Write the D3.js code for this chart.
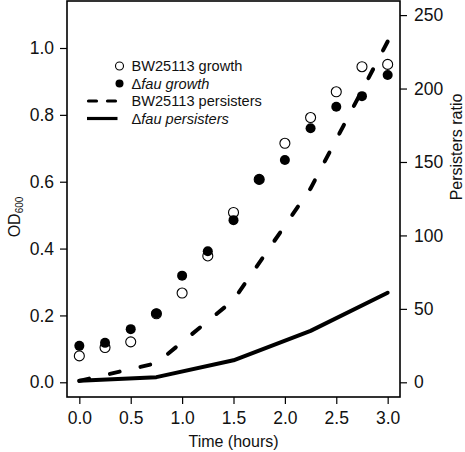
<!DOCTYPE html>
<html>
<head>
<meta charset="utf-8">
<script src="https://cdn.jsdelivr.net/npm/d3@7"></script>
<style>
  html, body { margin: 0; padding: 0; background: #fff; }
  svg { display: block; font-family: "Liberation Sans", Arial, Helvetica, sans-serif; }
</style>
</head>
<body>
<div id="chart"></div>
<script>
// Data
const timeHours = [0, 0.25, 0.5, 0.75, 1.0, 1.25, 1.5, 1.75, 2.0, 2.25, 2.5, 2.75, 3.0];
const bwGrowth = [0.079, 0.104, 0.121, 0.205, 0.267, 0.378, 0.508, 0.607, 0.715, 0.792, 0.869, 0.944, 0.951];
const fauGrowth = [0.109, 0.118, 0.159, 0.206, 0.319, 0.392, 0.485, 0.607, 0.665, 0.760, 0.824, 0.856, 0.919];

const persTime = [0, 0.75, 1.5, 2.25, 3.0];
const bwPersisters = [1, 13, 56, 132, 232];
const fauPersisters = [1, 3.5, 15, 35, 61];

const xTicks = [0, 0.5, 1.0, 1.5, 2.0, 2.5, 3.0];
const leftTicks = [0, 0.2, 0.4, 0.6, 0.8, 1.0];
const rightTicks = [0, 50, 100, 150, 200, 250];

const legendItems = [
    { label: 'BW25113 growth', delta: false, kind: 'open' },
    { label: 'fau growth', delta: true, kind: 'filled' },
    { label: 'BW25113 persisters', delta: false, kind: 'dashed' },
    { label: 'fau persisters', delta: true, kind: 'solid' }
];

const width = 465, height = 452;
const plot = { left: 67, right: 400, top: 1, bottom: 397 };

const svg = d3.select('#chart')
    .append('svg')
    .attr('width', width)
    .attr('height', height);

// Scales
const x = d3.scaleLinear().domain([-0.12, 3.12]).range([plot.left, plot.right]);
const yLeft = d3.scaleLinear().domain([-0.044, 1.1406]).range([plot.bottom, plot.top]);
const yRight = d3.scaleLinear().domain([-10, 259.6]).range([plot.bottom, plot.top]);

const tickFont = 17.5;

// Axes
const xAxis = svg.append('g')
    .attr('transform', `translate(0,${plot.bottom})`)
    .call(d3.axisBottom(x).tickValues(xTicks).tickFormat(d3.format('.1f')).tickSize(7).tickPadding(8).tickSizeOuter(0));

const lAxis = svg.append('g')
    .attr('transform', `translate(${plot.left},0)`)
    .call(d3.axisLeft(yLeft).tickValues(leftTicks).tickFormat(d3.format('.1f')).tickSize(7).tickPadding(6).tickSizeOuter(0));

const rAxis = svg.append('g')
    .attr('transform', `translate(${plot.right},0)`)
    .call(d3.axisRight(yRight).tickValues(rightTicks).tickFormat(d3.format('d')).tickSize(7).tickPadding(7).tickSizeOuter(0));

[xAxis, lAxis, rAxis].forEach(g => {
    g.select('.domain').remove();
    g.selectAll('line').attr('stroke', '#000').attr('stroke-width', 1.2);
    g.selectAll('text')
        .attr('fill', '#111')
        .style('font-size', tickFont + 'px')
        .style('font-family', '"Liberation Sans", Arial, sans-serif');
});

// Box
svg.append('rect')
    .attr('x', plot.left)
    .attr('y', plot.top)
    .attr('width', plot.right - plot.left)
    .attr('height', plot.bottom - plot.top)
    .attr('fill', 'none')
    .attr('stroke', '#000')
    .attr('stroke-width', 1.6);

// Persister lines (right axis)
const persLine = d3.line()
    .x(d => x(d[0]))
    .y(d => yRight(d[1]));

const dashed = svg.append('path')
    .datum(d3.zip(persTime, bwPersisters))
    .attr('d', persLine)
    .attr('fill', 'none')
    .attr('stroke', '#000')
    .attr('stroke-width', 4)
    .attr('stroke-linecap', 'round');

// fit the dash pattern so that the line starts and ends with a dash
const dashLen = 10;
const total = dashed.node().getTotalLength();
const nPeriods = Math.round((total - dashLen) / 32);
const period = (total - dashLen) / nPeriods;
dashed.attr('stroke-dasharray', `${dashLen},${period - dashLen}`);

svg.append('path')
    .datum(d3.zip(persTime, fauPersisters))
    .attr('d', persLine)
    .attr('fill', 'none')
    .attr('stroke', '#000')
    .attr('stroke-width', 4)
    .attr('stroke-linecap', 'round')
    .attr('stroke-linejoin', 'round');

// Growth points (left axis)
svg.selectAll('.bw')
    .data(d3.zip(timeHours, bwGrowth))
    .enter()
    .append('circle')
    .attr('class', 'bw')
    .attr('cx', d => x(d[0]))
    .attr('cy', d => yLeft(d[1]))
    .attr('r', 5)
    .attr('fill', '#fff')
    .attr('stroke', '#000')
    .attr('stroke-width', 1.1);

svg.selectAll('.fau')
    .data(d3.zip(timeHours, fauGrowth))
    .enter()
    .append('circle')
    .attr('class', 'fau')
    .attr('cx', d => x(d[0]))
    .attr('cy', d => yLeft(d[1]))
    .attr('r', 5)
    .attr('fill', '#000');

// Legend
const legend = svg.append('g');
const rowY = i => 66 + i * 17.5;

legendItems.forEach((item, i) => {
    const y = rowY(i);
    if (item.kind === 'open') {
        legend.append('circle').attr('cx', 119.5).attr('cy', y).attr('r', 4)
            .attr('fill', '#fff').attr('stroke', '#000').attr('stroke-width', 1.1);
    } else if (item.kind === 'filled') {
        legend.append('circle').attr('cx', 119.5).attr('cy', y).attr('r', 4).attr('fill', '#000');
    } else {
        legend.append('line')
            .attr('x1', item.kind === 'dashed' ? 88.5 : 87)
            .attr('x2', item.kind === 'dashed' ? 115.5 : 117.5)
            .attr('y1', y).attr('y2', y)
            .attr('stroke', '#000')
            .attr('stroke-width', 3.2)
            .attr('stroke-linecap', item.kind === 'dashed' ? 'round' : 'butt')
            .attr('stroke-dasharray', item.kind === 'dashed' ? '8,11' : null);
    }
    const t = legend.append('text')
        .attr('x', 131.5)
        .attr('y', y + 5.3)
        .attr('fill', '#111')
        .style('font-size', '14.6px');
    if (item.delta) {
        t.append('tspan').text('\u0394');
        t.append('tspan').style('font-style', 'italic').text(item.label);
    } else {
        t.text(item.label);
    }
});

// Axis titles
svg.append('text')
    .attr('x', (plot.left + plot.right) / 2)
    .attr('y', 446.5)
    .attr('text-anchor', 'middle')
    .attr('fill', '#111')
    .style('font-size', '16px')
    .text('Time (hours)');

const odTitle = svg.append('text')
    .attr('transform', 'translate(20,217) rotate(-90)')
    .attr('text-anchor', 'middle')
    .attr('fill', '#111')
    .style('font-size', '16px');
odTitle.append('tspan').text('OD');
odTitle.append('tspan').attr('dy', 3).style('font-size', '10px').text('600');

svg.append('text')
    .attr('transform', 'translate(462,147) rotate(-90)')
    .attr('text-anchor', 'middle')
    .attr('fill', '#111')
    .style('font-size', '16px')
    .text('Persisters ratio');
</script>
</body>
</html>
